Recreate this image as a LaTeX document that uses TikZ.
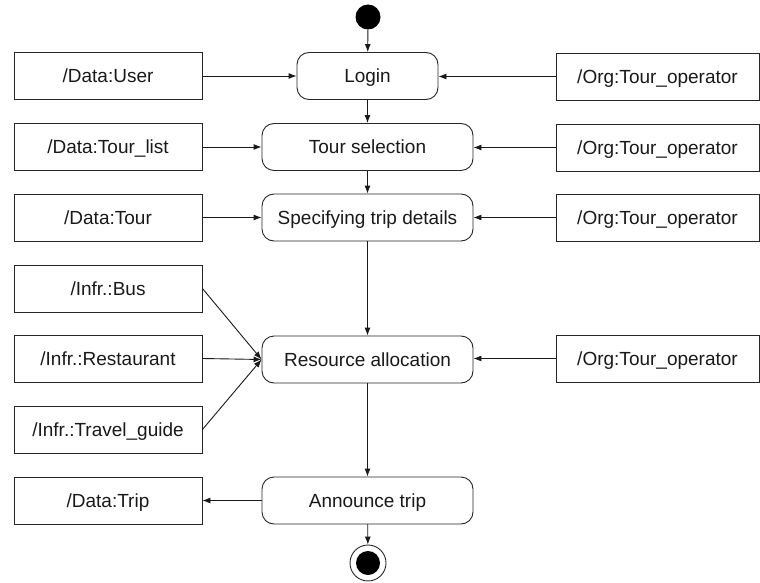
\documentclass[tikz,border=0pt]{standalone}
\usepackage{fontspec}
\setmainfont{Liberation Sans}
\usetikzlibrary{arrows.meta}
\begin{document}
\begin{tikzpicture}[x=1pt,y=-1pt,
  lbl/.style={font=\fontsize{19}{22}\selectfont, text=black!90, text height=13.6pt, text depth=0pt},
  box/.style={lbl, draw=black!85, line width=0.9pt, minimum height=47pt, inner sep=0pt},
  leftbox/.style={box, minimum width=188pt},
  rightbox/.style={box, minimum width=203pt},
  act/.style={box, rounded corners=12pt},
  arr/.style={-{Latex[length=8pt,width=6pt]}, line width=0.9pt, draw=black!90}]
\useasboundingbox (0,0) rectangle (760,583);

% activities
\node[circle, fill=black, minimum size=25pt, inner sep=0pt] (start) at (368,17) {};
\node[act, minimum width=141pt] (login) at (367.5,76) {Login};
\node[act, minimum width=211pt] (tsel) at (367.5,147) {Tour selection};
\node[act, minimum width=211pt] (spec) at (367.5,217.5) {Specifying trip details};
\node[act, minimum width=211pt] (res) at (367.5,359.5) {Resource allocation};
\node[act, minimum width=211pt] (ann) at (367.5,500.5) {Announce trip};
\node[circle, draw=black!85, line width=0.9pt, minimum size=36pt, inner sep=0pt] (end) at (368,563) {};
\node[circle, fill=black, minimum size=24pt, inner sep=0pt] (endin) at (end) {};

% left boxes
\node[leftbox] (user) at (108,76) {/Data:User};
\node[leftbox] (tlist) at (108,147) {/Data:Tour\_list};
\node[leftbox] (tour) at (108,217.5) {/Data:Tour};
\node[leftbox] (bus) at (108,288.5) {/Infr.:Bus};
\node[leftbox] (rest) at (108,358.5) {/Infr.:Restaurant};
\node[leftbox] (guide) at (108,429.5) {/Infr.:Travel\_guide};
\node[leftbox] (trip) at (108,500.5) {/Data:Trip};

% right boxes
\node[rightbox] (org1) at (657.5,76.5) {/Org:Tour\_operator};
\node[rightbox] (org2) at (657.5,147.5) {/Org:Tour\_operator};
\node[rightbox] (org3) at (657.5,217.5) {/Org:Tour\_operator};
\node[rightbox] (org4) at (657.5,358.5) {/Org:Tour\_operator};

% main flow
\draw[arr] (start) -- (login);
\draw[arr] (login) -- (tsel);
\draw[arr] (tsel) -- (spec);
\draw[arr] (spec) -- (res);
\draw[arr] (res) -- (ann);
\draw[arr] (ann) -- (end);

% inputs
\draw[arr] (user.east) -- (login.west);
\draw[arr] (tlist.east) -- (tsel.west);
\draw[arr] (tour.east) -- (spec.west);
\draw[arr] (bus.east) -- (res.west);
\draw[arr] (rest.east) -- (res.west);
\draw[arr] (guide.east) -- (res.west);
\draw[arr] (ann.west) -- (trip.east);

\draw[arr] (org1.west) -- (login.east |- org1.west);
\draw[arr] (org2.west) -- (tsel.east |- org2.west);
\draw[arr] (org3.west) -- (spec.east);
\draw[arr] (org4.west) -- (res.east |- org4.west);
\end{tikzpicture}
\end{document}
